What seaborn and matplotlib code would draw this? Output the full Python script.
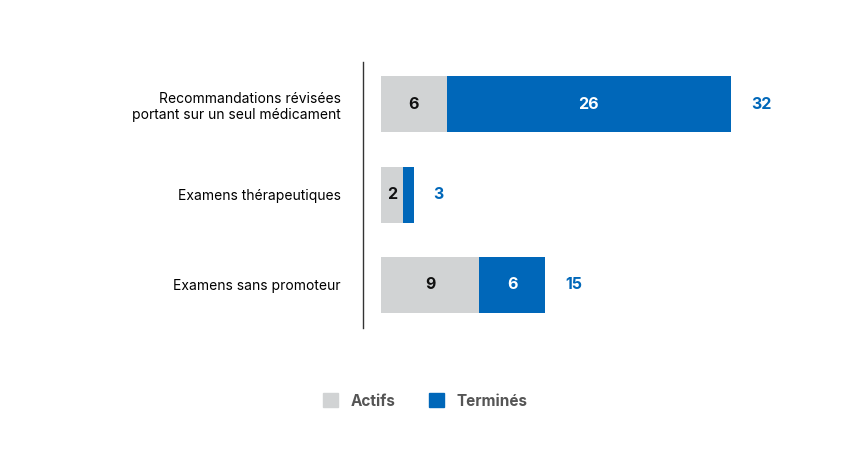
import matplotlib
matplotlib.use("Agg")
import matplotlib.pyplot as plt
import seaborn as sns
import pandas as pd
from matplotlib.patches import Patch

categories = ["Recommandations révisées\nportant sur un seul médicament",
              "Examens thérapeutiques",
              "Examens sans promoteur"]
actifs = [6, 2, 9]
termines = [26, 1, 6]
totaux = [a + t for a, t in zip(actifs, termines)]

GRAY = "#d1d3d4"
BLUE = "#0067b9"
plt.rcParams["font.family"] = "Inter"

df = pd.DataFrame({"cat": categories, "actifs": actifs, "termines": termines, "total": totaux})

fig = plt.figure(figsize=(8.5, 4.57), dpi=100)
ax = fig.add_axes([363 / 850, 1 - 328 / 457, (800 - 363) / 850, 266 / 457])

# stacked: total in blue underneath, actifs in gray on top
sns.barplot(data=df, y="cat", x="total", color=BLUE, orient="h", width=0.62, ax=ax, saturation=1)
sns.barplot(data=df, y="cat", x="actifs", color=GRAY, orient="h", width=0.62, ax=ax, saturation=1)

for i, (a, t, tot) in enumerate(zip(actifs, termines, totaux)):
    ax.text(a / 2, i, str(a), ha="center", va="center", fontsize=11.5, fontweight="bold", color="#111111")
    if t > 1:
        ax.text(a + t / 2, i, str(t), ha="center", va="center", fontsize=11.5, fontweight="bold", color="white")
    ax.text(tot + 1.8, i, str(tot), ha="left", va="center", fontsize=11.5, fontweight="bold", color=BLUE)

ax.set_xlim(-1.65, 38.3)
ax.set_ylim(2.48, -0.47)
ax.set_xlabel("")
ax.set_ylabel("")
ax.set_xticks([])
ax.tick_params(axis="y", length=0, pad=16)
for lbl in ax.get_yticklabels():
    lbl.set_fontweight("bold")
    lbl.set_fontsize(11)
    lbl.set_color("#111111")
    lbl.set_multialignment("right")
for s in ["top", "right", "bottom"]:
    ax.spines[s].set_visible(False)
ax.spines["left"].set_color("#333333")
ax.spines["left"].set_linewidth(1)
ax.spines["left"].set_position(("data", -1.65))
ax.set_facecolor("white")

handles = [Patch(color=GRAY, label="Actifs"), Patch(color=BLUE, label="Terminés")]
leg = fig.legend(handles=handles, loc="center", bbox_to_anchor=(425 / 850, 1 - 401 / 457),
                 ncol=2, frameon=False, fontsize=11, handlelength=1, handleheight=1,
                 columnspacing=2.2, handletextpad=0.8)
for t in leg.get_texts():
    t.set_fontweight("bold")
    t.set_color("#555555")

fig.savefig("out.png", dpi=100, facecolor="white")
